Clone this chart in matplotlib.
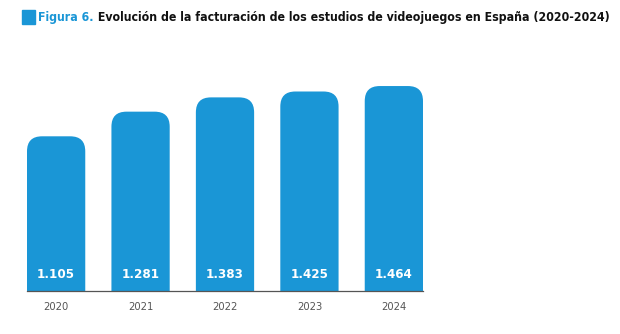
import matplotlib.pyplot as plt
from matplotlib.patches import FancyBboxPatch, Rectangle

years = ['2020', '2021', '2022', '2023', '2024']
values = [1105, 1281, 1383, 1425, 1464]
value_labels = ['1.105', '1.281', '1.383', '1.425', '1.464']

azul = '#1a96d6'
W, H = 620, 334

plt.rcParams['font.family'] = ['DejaVu Sans']
plt.rcParams['font.stretch'] = 'condensed'

fig = plt.figure(figsize=(W / 100, H / 100), dpi=100)
ax = fig.add_axes([27 / W, 1 - 291 / H, 396 / W, 231 / H])

w = 0.69
ax.set_xlim(-w / 2, len(years) - 1 + w / 2)
ax.set_ylim(0, 1650)

# escala px por unidad para redondear solo las esquinas visibles
px_x = 396 / (len(years) - 1 + w)
px_y = 231 / 1650
r = 15 / px_x
for i, v in enumerate(values):
    p = FancyBboxPatch((i - w / 2, -300), w, v + 300,
                       boxstyle=f'round,pad=0,rounding_size={r}',
                       mutation_aspect=px_x / px_y,
                       fc=azul, ec='none', clip_on=True)
    ax.add_patch(p)
    ax.text(i, 120, value_labels[i], ha='center', va='center', color='white',
            fontsize=9.5, fontweight='bold')

ax.axhline(0, color='#555555', lw=0.9, clip_on=False)
ax.set_xticks(range(len(years)))
ax.set_xticklabels(years, color='#555555', fontsize=8)
ax.tick_params(axis='x', length=0, pad=8)
ax.set_yticks([])
for s in ax.spines.values():
    s.set_visible(False)

# titulo
fig.add_artist(Rectangle((22 / W, 1 - 24 / H), 13 / W, 14 / H,
                         transform=fig.transFigure, color=azul))
fs = 12
t = fig.text(38 / W, 1 - 17 / H, 'Figura 6.', color=azul, fontsize=fs,
             fontweight='bold', va='center')
t2 = ax.annotate(' Evolución de la facturación de los estudios de videojuegos en España (2020-2024)',
                 xy=(1, 0), xycoords=t, va='bottom', ha='left', fontsize=fs,
                 fontweight='bold', color='#111111', annotation_clip=False)

# ajustar tamaño para que el título acabe hacia x=605
rend = fig.canvas.get_renderer()
fin = t2.get_window_extent(rend).x1
escala = (605 - 38) / (fin - 38)
t.set_fontsize(fs * escala)
t2.set_fontsize(fs * escala)

fig.savefig('out.png', dpi=100)
